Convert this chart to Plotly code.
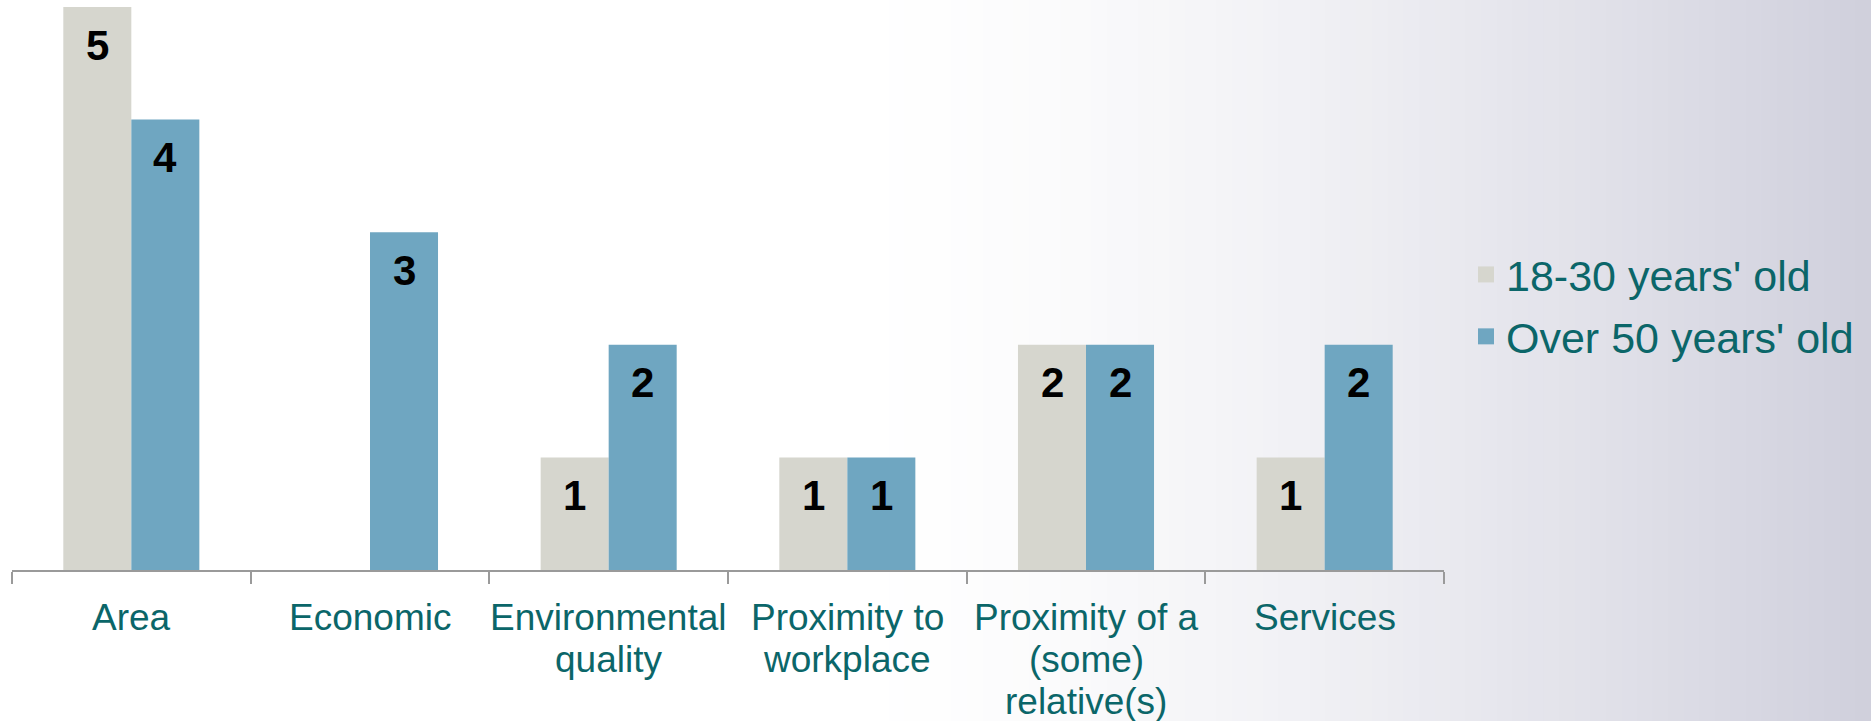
import plotly.graph_objects as go

# Reasons for choosing a place to live, by age group
categories = ["Area", "Economic", "Environmental quality", "Proximity to workplace",
              "Proximity of a (some) relative(s)", "Services"]
tick_lines = [["Area"], ["Economic"], ["Environmental", "quality"], ["Proximity to", "workplace"],
              ["Proximity of a", "(some)", "relative(s)"], ["Services"]]
series_names = ["18-30 years' old", "Over 50 years' old"]
young = [5, 0, 1, 1, 2, 1]
older = [4, 3, 2, 1, 2, 2]

colors = ["#D6D6CE", "#6FA6C1"]
teal = "#0B6669"
font_family = "Arial, Liberation Sans, sans-serif"

W, H = 1871, 721
ML, MR, MT, MB = 12, 427, 7, 151
PW, PH = W - ML - MR, H - MT - MB

fig = go.Figure()

for name, vals, col in zip(series_names, [young, older], colors):
    fig.add_trace(go.Bar(
        x=categories, y=vals, name=name, marker=dict(color=col, line=dict(width=0)),
        showlegend=False, hoverinfo="x+y",
    ))

# legend entries with larger square swatches
for i, (name, col) in enumerate(zip(series_names, colors)):
    fig.add_trace(go.Scatter(
        x=[None], y=[None], mode="markers", name=name,
        marker=dict(symbol="square", size=19, color=col),
        legendgroup=f"g{i}",
    ))

# value labels just inside the top of each bar
bar_half = 34
for vals, shift in [(young, -bar_half), (older, bar_half)]:
    for c, v in zip(categories, vals):
        if v:
            fig.add_annotation(
                x=c, y=v, text=f"<b>{v}</b>", showarrow=False, xshift=shift, yshift=-38,
                yanchor="middle", font=dict(family=font_family, size=42, color="black"),
            )

# category labels under the axis, set line by line for tighter leading
for c, lines in zip(categories, tick_lines):
    for j, line in enumerate(lines):
        fig.add_annotation(
            x=c, xref="x", y=0, yref="paper", text=line, showarrow=False,
            yanchor="middle", yshift=-(47 + 42 * j),
            font=dict(family=font_family, size=37, color=teal),
        )

# light lavender gradient across the right side of the slide
n = 120
end = (207, 207, 220)
for k in range(n):
    x0, x1 = k / n, (k + 1) / n
    t = max(0.0, ((x0 + x1) / 2 - 0.45) / 0.55)
    f = t ** 1.5
    r, g, b = [round(255 - (255 - e) * f) for e in end]
    fig.add_shape(type="rect", xref="paper", yref="paper",
                  x0=(x0 * W - ML) / PW, x1=(x1 * W - ML + 1) / PW,
                  y0=-MB / PH, y1=1 + MT / PH,
                  fillcolor=f"rgb({r},{g},{b})", line=dict(width=0), layer="below")

fig.update_layout(
    width=W, height=H,
    margin=dict(l=ML, r=MR, t=MT, b=MB, autoexpand=False),
    paper_bgcolor="white", plot_bgcolor="rgba(0,0,0,0)",
    barmode="group", bargap=0.43, bargroupgap=0,
    font=dict(family=font_family, color=teal),
    showlegend=True,
    legend=dict(
        xref="container", yref="container", x=1466 / W, y=1 - 240 / H,
        xanchor="left", yanchor="top", bgcolor="rgba(0,0,0,0)",
        font=dict(family=font_family, size=43, color=teal), tracegroupgap=3,
        itemsizing="trace",
    ),
    xaxis=dict(
        categoryorder="array", categoryarray=categories, showticklabels=False,
        tickson="boundaries", ticks="outside", ticklen=12, tickwidth=1.5, tickcolor="#9A9A9A",
        showline=True, linecolor="#9A9A9A", linewidth=1.5, automargin=False,
        showgrid=False, zeroline=False, fixedrange=True,
    ),
    yaxis=dict(range=[0, 5], visible=False, showgrid=False, zeroline=False, fixedrange=True,
               automargin=False),
)

fig.write_html("out.html")
